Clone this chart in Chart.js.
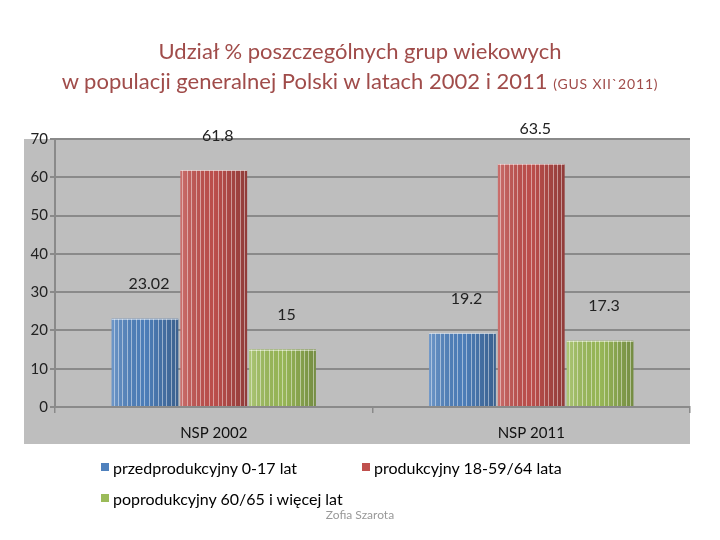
<!DOCTYPE html>
<html lang="pl">
<head>
  <meta charset="UTF-8">
  <title>Udział % grup wiekowych</title>
  <script src="https://cdn.jsdelivr.net/npm/chart.js"></script>
  <style>
    body {
      margin: 0;
      background: #fff;
      font-family: 'Lato', sans-serif;
    }
    #wrap {
      position: relative;
      width: 720px;
      height: 540px;
    }
    #title {
      position: absolute;
      left: 0;
      top: 36px;
      width: 720px;
      text-align: center;
      color: #a04c4a;
      font-size: 22px;
      line-height: 30px;
    }
    #title small {
      font-size: 14px;
      letter-spacing: 0.8px;
    }
    #legend {
      position: absolute;
      left: 101px;
      top: 457px;
      display: grid;
      grid-template-columns: 261px auto;
      row-gap: 11px;
      font-size: 16px;
      color: #000;
    }
    .item {
      display: flex;
      align-items: center;
      height: 20px;
    }
    .box {
      width: 8px;
      height: 8px;
      margin-right: 4px;
    }
    #author {
      position: absolute;
      left: 0;
      top: 507px;
      width: 720px;
      text-align: center;
      font-size: 12px;
      color: #999;
    }
  </style>
</head>
<body>
  <div id="wrap">
    <canvas id="chartCanvas" width="720" height="540"></canvas>
    <div id="title">
      Udział % poszczególnych grup wiekowych<br>
      w populacji generalnej Polski w latach 2002 i 2011 <small>(GUS XII`2011)</small>
    </div>
    <div id="legend"></div>
    <div id="author">Zofia Szarota</div>
  </div>

  <script>
    const categories = ['NSP 2002', 'NSP 2011'];
    const seriesNames = ['przedprodukcyjny 0-17 lat', 'produkcyjny 18-59/64 lata', 'poprodukcyjny 60/65 i więcej lat'];
    const przedprodukcyjny = [23.02, 19.2];
    const produkcyjny = [61.8, 63.5];
    const poprodukcyjny = [15, 17.3];
    const yMin = 0, yMax = 70, yStep = 10;

    const colors = ['#4f81bd', '#c0504d', '#9bbb59'];

    // gray plot background (extends left under the tick labels and down under the category labels)
    const plotBg = {
      id: 'plotBg',
      beforeDraw(chart) {
        const { ctx, chartArea } = chart;
        ctx.save();
        ctx.fillStyle = '#bebebe';
        ctx.fillRect(chartArea.left - 31, chartArea.top, chartArea.right - chartArea.left + 31, chartArea.bottom - chartArea.top + 37);
        ctx.restore();
      }
    };

    // shading + vertical stripes on the bars, then value labels
    const barDecor = {
      id: 'barDecor',
      afterDatasetsDraw(chart) {
        const ctx = chart.ctx;
        ctx.save();
        chart.data.datasets.forEach((ds, i) => {
          chart.getDatasetMeta(i).data.forEach((bar, j) => {
            const { x, y, base, width } = bar.getProps(['x', 'y', 'base', 'width'], true);
            const l = x - width / 2;
            const g = ctx.createLinearGradient(l, 0, l + width, 0);
            g.addColorStop(0, 'rgba(255,255,255,0.18)');
            g.addColorStop(0.5, 'rgba(0,0,0,0.02)');
            g.addColorStop(1, 'rgba(0,0,0,0.25)');
            ctx.fillStyle = g;
            ctx.fillRect(l, y, width, base - y);
            ctx.strokeStyle = 'rgba(255,255,255,0.45)';
            ctx.lineWidth = 1;
            for (let sx = l + 2; sx < l + width - 1; sx += 4.4) {
              const px = Math.round(sx) + 0.5;
              ctx.beginPath();
              ctx.moveTo(px, y);
              ctx.lineTo(px, base);
              ctx.stroke();
            }
            ctx.beginPath();
            ctx.moveTo(l, Math.round(y) + 0.5);
            ctx.lineTo(l + width, Math.round(y) + 0.5);
            ctx.strokeStyle = 'rgba(255,255,255,0.5)';
            ctx.stroke();

            ctx.fillStyle = '#222';
            ctx.font = '16px Lato';
            ctx.textAlign = 'center';
            ctx.textBaseline = 'middle';
            ctx.fillText(String(ds.data[j]), x + 4, y - 35);
          });
        });
        ctx.restore();
      }
    };

    const chart = new Chart(document.getElementById('chartCanvas'), {
      type: 'bar',
      data: {
        labels: categories,
        datasets: [przedprodukcyjny, produkcyjny, poprodukcyjny].map((data, i) => ({
          label: seriesNames[i],
          data: data,
          backgroundColor: colors[i],
          borderWidth: 0,
          categoryPercentage: 0.65,
          barPercentage: 0.97
        }))
      },
      options: {
        responsive: false,
        animation: false,
        layout: { padding: { top: 139, left: 0, right: 30, bottom: 93 } },
        plugins: {
          legend: { display: false },
          title: { display: false },
          tooltip: { enabled: false }
        },
        scales: {
          x: {
            afterFit: s => { s.height = 40; },
            grid: { drawOnChartArea: false, drawTicks: true, tickLength: 6, color: '#8a8a8a', lineWidth: 1.5 },
            border: { color: '#8a8a8a', width: 2 },
            ticks: { color: '#111', padding: 11, font: { family: 'Lato', size: 15 } }
          },
          y: {
            min: yMin,
            max: yMax,
            afterFit: s => { s.width = 55; },
            grid: { color: '#8a8a8a', lineWidth: 2, tickLength: 5 },
            border: { color: '#8a8a8a', width: 2 },
            ticks: { stepSize: yStep, color: '#222', padding: 2, font: { family: 'Lato', size: 15 } }
          }
        }
      },
      plugins: [plotBg, barDecor]
    });

    // legend built from the datasets
    const legend = document.getElementById('legend');
    chart.data.datasets.forEach(ds => {
      const item = document.createElement('div');
      item.className = 'item';
      item.innerHTML = `<span class="box" style="background:${ds.backgroundColor}"></span>${ds.label}`;
      legend.appendChild(item);
    });
  </script>
</body>
</html>
